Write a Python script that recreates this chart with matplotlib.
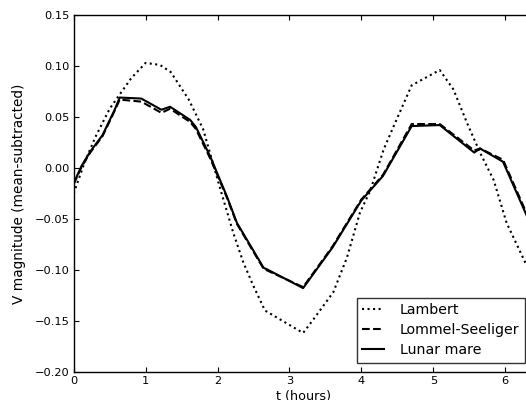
import matplotlib
matplotlib.use('Agg')
import matplotlib.pyplot as plt

# time (hours) and V magnitude for the two dark-surface models
t_model = [0.0, 0.11, 0.23, 0.40, 0.57, 0.64, 0.94, 1.22, 1.34, 1.62, 1.70, 1.90,
           2.13, 2.27, 2.64, 2.70, 3.19, 3.60, 4.00, 4.30, 4.70, 5.09, 5.57, 5.65,
           5.97, 6.40]
lunar_mare = [-0.015, 0.002, 0.016, 0.032, 0.057, 0.069, 0.068, 0.057, 0.060, 0.047,
              0.040, 0.011, -0.028, -0.054, -0.098, -0.100, -0.118, -0.078, -0.032,
              -0.008, 0.041, 0.042, 0.015, 0.019, 0.006, -0.063]
lommel = [-0.016, 0.001, 0.015, 0.031, 0.056, 0.067, 0.065, 0.054, 0.058, 0.045,
          0.038, 0.009, -0.029, -0.055, -0.099, -0.101, -0.117, -0.077, -0.031,
          -0.007, 0.043, 0.043, 0.017, 0.019, 0.008, -0.061]

# Lambert sampled on its own kinks
t_lambert = [0.0, 0.15, 0.30, 0.50, 0.65, 0.80, 1.00, 1.20, 1.35, 1.60, 1.80, 2.04,
             2.22, 2.36, 2.50, 2.66, 3.19, 3.33, 3.61, 3.80, 3.98, 4.12, 4.31, 4.45,
             4.70, 5.09, 5.28, 5.47, 5.65, 5.84, 6.02, 6.28, 6.40]
lambert = [-0.025, 0.005, 0.030, 0.058, 0.073, 0.088, 0.103, 0.101, 0.094, 0.067,
           0.038, -0.021, -0.064, -0.093, -0.116, -0.140, -0.162, -0.149, -0.122,
           -0.088, -0.044, -0.023, 0.018, 0.041, 0.081, 0.096, 0.077, 0.044, 0.015,
           -0.012, -0.054, -0.093, -0.108]

xticks = [0, 1, 2, 3, 4, 5, 6]
yticks = [-0.20, -0.15, -0.10, -0.05, 0.00, 0.05, 0.10, 0.15]

plt.rcParams['font.family'] = 'DejaVu Sans'

fig = plt.figure(figsize=(5.26, 4.0), dpi=100)
# axes run off the right and bottom edge like the cropped original
ax = fig.add_axes([0.1401, 0.0708, 0.8750, 0.8917])

ax.plot(t_lambert, lambert, 'k:', lw=1.5, label='Lambert')
ax.plot(t_model, lommel, 'k--', lw=1.5, label='Lommel-Seeliger')
ax.plot(t_model, lunar_mare, 'k-', lw=1.5, label='Lunar mare')

ax.set_xlim(0, 6.4)
ax.set_ylim(-0.20, 0.15)
ax.set_xticks(xticks)
ax.set_xticklabels([str(v) for v in xticks])
ax.set_yticks(yticks)
ax.set_yticklabels([('%.2f' % v).replace('-', '\u2212') for v in yticks])
ax.tick_params(direction='in', top=True, right=True, length=3.5, width=0.8,
               pad=3, labelsize=8.2)
for s in ax.spines.values():
    s.set_linewidth(1.0)

ax.set_xlabel('t (hours)', fontsize=9.2, labelpad=3)
ax.set_ylabel('V magnitude (mean-subtracted)', fontsize=9.8, labelpad=6)

leg = ax.legend(loc='lower right', fancybox=False, fontsize=10.2, handlelength=1.55,
                handletextpad=1.1, borderpad=0.4, borderaxespad=0.63,
                labelspacing=0.42)
leg.get_frame().set_edgecolor('black')
leg.get_frame().set_linewidth(1.0)

fig.savefig('out.png', dpi=100, facecolor='white')
